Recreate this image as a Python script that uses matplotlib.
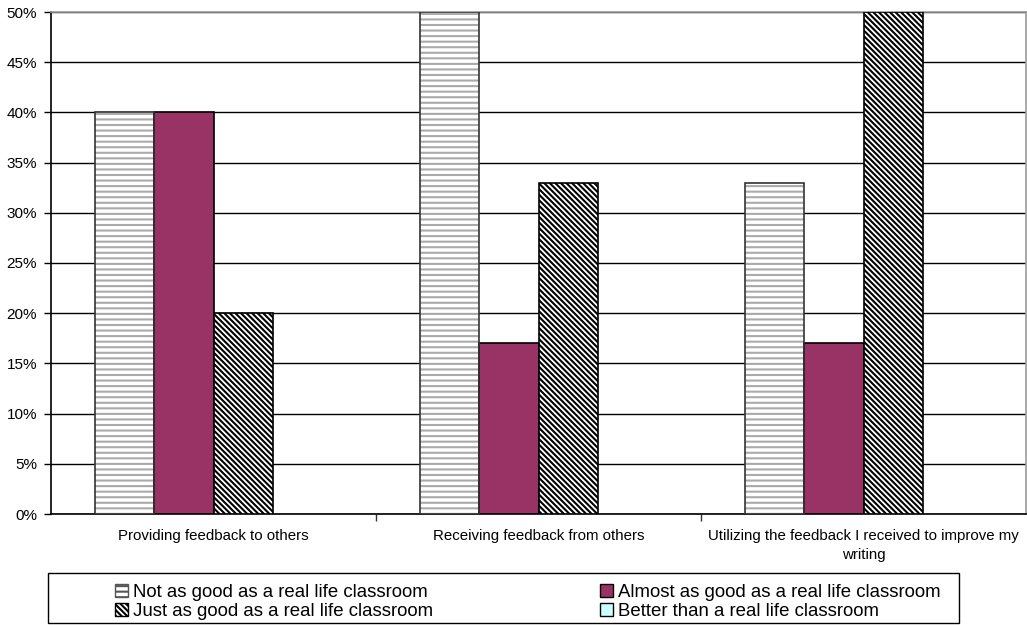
import numpy as np
import matplotlib
matplotlib.use("Agg")
import matplotlib.pyplot as plt
from matplotlib.patches import Patch, Rectangle
from matplotlib.ticker import PercentFormatter

plt.rcParams['font.family'] = ['Liberation Sans', 'DejaVu Sans']
plt.rcParams['hatch.linewidth'] = 1.5

categories = ['Providing feedback to others',
              'Receiving feedback from others',
              'Utilizing the feedback I received to improve my\nwriting']
series = ['Not as good as a real life classroom',
          'Almost as good as a real life classroom',
          'Just as good as a real life classroom',
          'Better than a real life classroom']
not_as_good = [40, 50, 33]
almost_as_good = [40, 17, 17]
just_as_good = [20, 33, 50]
better_than = [0, 0, 0]

W, H = 1027, 625
fig = plt.figure(figsize=(W / 100, H / 100), dpi=100)
ax = fig.add_axes([51 / W, 1 - 514 / H, 975 / W, 502 / H])

x = np.arange(len(categories))
width = 1 / 5.5
offsets = (np.arange(4) - 1.5) * width

diag = '\\' * 6

# plain grey stripes, hatch drawn first then outline on top
ax.bar(x + offsets[0], not_as_good, width, color='white', edgecolor='#aaaaaa',
       hatch='---', linewidth=0, zorder=3)
ax.bar(x + offsets[0], not_as_good, width, fill=False, edgecolor='#333333',
       linewidth=1.2, zorder=4)
ax.bar(x + offsets[1], almost_as_good, width, color='#993366', edgecolor='black',
       linewidth=1.2, zorder=3)
ax.bar(x + offsets[2], just_as_good, width, color='white', edgecolor='black',
       hatch=diag, linewidth=1.2, zorder=3)
ax.bar(x + offsets[3], better_than, width, color='#ccffff', edgecolor='none',
       linewidth=0, zorder=3)

ax.set_xlim(-0.5, len(categories) - 0.5)
ax.set_ylim(0, 50)
ax.set_yticks(np.arange(0, 51, 5))
ax.yaxis.set_major_formatter(PercentFormatter(decimals=0))
ax.grid(axis='y', color='black', linewidth=1.0, zorder=0)
ax.set_axisbelow(True)

ax.set_xticks(x)
ax.set_xticklabels(categories, fontsize=10.8, linespacing=1.45)
ax.tick_params(axis='x', length=0, pad=11)
ax.set_xticks(np.arange(0.5, len(categories) - 0.5), minor=True)
ax.tick_params(axis='x', which='minor', length=5, width=1, color='#333333')
ax.tick_params(axis='y', length=5, width=1, pad=5, labelsize=11, color='black')

ax.spines['left'].set_color('black')
ax.spines['bottom'].set_color('black')
ax.spines['top'].set_color('#999999')
ax.spines['right'].set_color('#999999')
for s in ax.spines.values():
    s.set_linewidth(1.2)

# legend frame
fig.patches.append(Rectangle((48 / W, 1 - 623 / H), 911 / W, 50 / H,
                             transform=fig.transFigure, fill=False,
                             edgecolor='black', linewidth=1.0))

handles = [
    Patch(facecolor='white', edgecolor='#555555', hatch='---', linewidth=1),
    Patch(facecolor='white', edgecolor='black', hatch=diag, linewidth=1),
    Patch(facecolor='#993366', edgecolor='black', linewidth=1),
    Patch(facecolor='#ccffff', edgecolor='black', linewidth=1),
]
labels = [series[0], series[2], series[1], series[3]]
fig.legend(handles, labels, loc='upper left', bbox_to_anchor=(102 / W, 1 - 571 / H),
           ncol=2, frameon=False, fontsize=13.4, handlelength=0.7, handleheight=0.7,
           handletextpad=0.25, columnspacing=9.0, labelspacing=0.1,
           borderpad=0.2)

fig.savefig('out.png', dpi=100)
